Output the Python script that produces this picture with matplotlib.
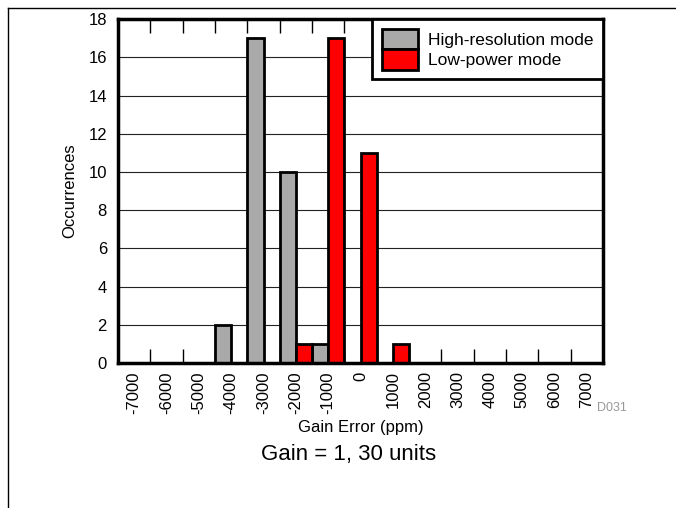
import matplotlib
matplotlib.use('Agg')
import matplotlib.pyplot as plt
from matplotlib.lines import Line2D
import numpy as np

# Dados do histograma
gain_error = [-7000, -6000, -5000, -4000, -3000, -2000, -1000, 0,
              1000, 2000, 3000, 4000, 5000, 6000, 7000]
high_res = [0, 0, 0, 2, 17, 10, 1, 0, 0, 0, 0, 0, 0, 0, 0]
low_power = [0, 0, 0, 0, 0, 1, 17, 11, 1, 0, 0, 0, 0, 0, 0]
bin_width = 1000

plt.rcParams['font.family'] = ['Liberation Sans', 'DejaVu Sans']

fig = plt.figure(figsize=(6.76, 5.08), dpi=100)
ax = fig.add_axes([0.1746, 0.2854, 0.7175, 0.677])

x = np.array(gain_error)
ax.bar(x - bin_width / 2, high_res, width=bin_width / 2, align='edge',
       color='#A9A9A9', edgecolor='black', linewidth=2, label='High-resolution mode', zorder=3)
ax.bar(x, low_power, width=bin_width / 2, align='edge',
       color='#FF0000', edgecolor='black', linewidth=2, label='Low-power mode', zorder=3)

ax.set_xlim(x[0] - bin_width / 2, x[-1] + bin_width / 2)
ax.set_ylim(0, 18)
ax.set_yticks(range(0, 19, 2))
ax.set_xticks(gain_error)
ax.set_xticklabels([str(v) for v in gain_error], rotation=90, fontsize=12)
ax.set_xticks(np.arange(x[0] - bin_width / 2, x[-1] + bin_width, bin_width), minor=True)
ax.tick_params(axis='x', which='major', length=0, pad=6)
ax.tick_params(axis='x', which='minor', direction='in', length=10, width=1, top=True, bottom=True)
ax.tick_params(axis='y', length=0, pad=8, labelsize=12)
ax.yaxis.grid(True, color='#222222', linewidth=0.8, zorder=0)
ax.set_axisbelow(True)
for s in ax.spines.values():
    s.set_linewidth(2.5)
    s.set_zorder(5)

ax.set_ylabel('Occurrences', fontsize=12, labelpad=8)
ax.set_xlabel('Gain Error (ppm)', fontsize=12, labelpad=4)

leg = ax.legend(loc='upper right', bbox_to_anchor=(1, 1), borderaxespad=0,
                fontsize=12.5, fancybox=False, framealpha=1, edgecolor='black',
                labelspacing=0, handlelength=2.1, handleheight=1.45,
                handletextpad=0.55, borderpad=0.55)
leg.get_frame().set_linewidth(2)
leg.set_zorder(6)

fig.text(0.883, 0.197, 'D031', fontsize=9, color='#999999', ha='left', va='center')
fig.text(0.515, 0.105, 'Gain = 1, 30 units', fontsize=16, ha='center', va='center')

# moldura externa
fig.add_artist(Line2D([8 / 676, 8 / 676], [0, 1 - 8 / 508], color='black', linewidth=1))
fig.add_artist(Line2D([8 / 676, 1], [1 - 8 / 508, 1 - 8 / 508], color='black', linewidth=1))

plt.savefig('out.png', dpi=100)
plt.close(fig)
